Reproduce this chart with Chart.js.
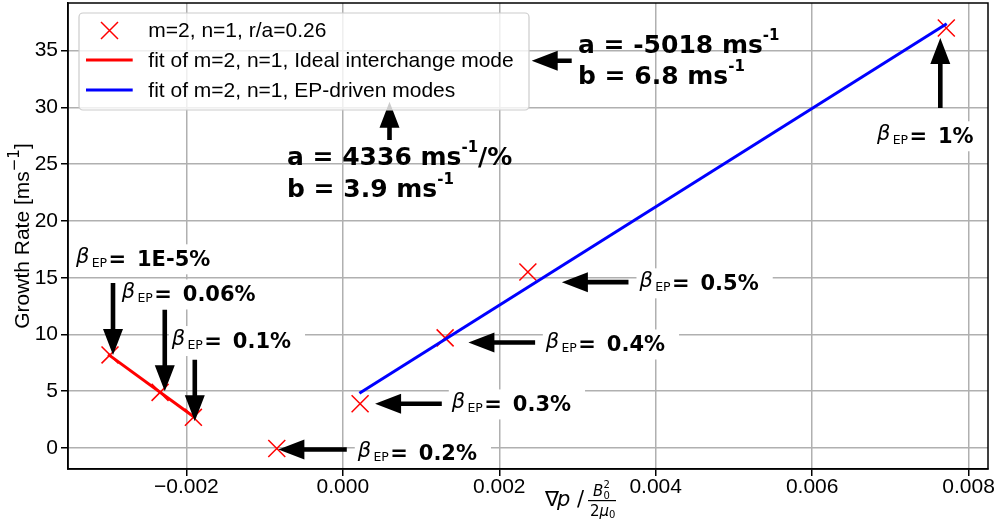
<!DOCTYPE html>
<html>
<head>
<meta charset="utf-8">
<script src="https://cdn.jsdelivr.net/npm/chart.js@4.4.1/dist/chart.umd.min.js"></script>
<style>
  html, body { margin: 0; padding: 0; background: #fff; }
  #wrap { width: 996px; height: 525px; }
</style>
</head>
<body>
<div id="wrap"><canvas id="growthChart" width="996" height="525"></canvas></div>
<script>
// pressure gradient (normalised) and growth rate of the m=2, n=1 mode at r/a=0.26
const gradP = [-0.002976, -0.002336, -0.00191, -0.000844, 0.000221, 0.001308, 0.002366, 0.007715];
const growthRate = [8.2, 4.9, 2.7, -0.05, 3.9, 9.7, 15.5, 37.0];
const betaEP = ['1E-5%', '0.06%', '0.1%', '0.2%', '0.3%', '0.4%', '0.5%', '1%'];

// fit lines (end points)
const idealFitX = [-0.00300, -0.00191];
const idealFitY = [8.25, 2.78];
const epFitX = [0.000212, 0.00772];
const epFitY = [4.82, 37.37];

const xTicks = [-0.002, 0, 0.002, 0.004, 0.006, 0.008];
const yTicks = [0, 5, 10, 15, 20, 25, 30, 35];

// annotation layout: offsets in px from each point (arrow tip, arrow tail, text start)
const betaNotes = [
  { tip: [3, 0], tail: [3, -72], text: [-34, -88.6] },
  { tip: [4.7, -1], tail: [4.7, -82.6], text: [-38.3, -90.9] },
  { tip: [1.4, 4], tail: [1.4, -57.6], text: [-21.6, -69.3] },
  { tip: [1.6, 1], tail: [70, 1], text: [81, 11] },
  { tip: [15, 0], tail: [81.7, 0], text: [91.7, 7.7] },
  { tip: [23.3, 4.6], tail: [90, 4.6], text: [100.7, 13.6] },
  { tip: [34, 10.1], tail: [100.6, 10.1], text: [111.6, 18.3] },
  { tip: [-6, 10], tail: [-6, 80], text: [-69.3, 115.3] }
];

const toXY = (xs, ys) => xs.map((x, i) => ({ x: x, y: ys[i] }));

const SANS = "'Liberation Sans', Arial, sans-serif";
const DJV = "'DejaVu Sans', sans-serif";

function drawArrow(ctx, x1, y1, x2, y2) {
  const dx = x2 - x1, dy = y2 - y1;
  const len = Math.hypot(dx, dy);
  const ux = dx / len, uy = dy / len;
  const px = -uy, py = ux;
  const headLen = 26, headW = 10, shaftW = 2.3;
  const bx = x2 - ux * headLen, by = y2 - uy * headLen;
  ctx.beginPath();
  ctx.moveTo(x1 + px * shaftW, y1 + py * shaftW);
  ctx.lineTo(bx + px * shaftW, by + py * shaftW);
  ctx.lineTo(bx + px * headW, by + py * headW);
  ctx.lineTo(x2, y2);
  ctx.lineTo(bx - px * headW, by - py * headW);
  ctx.lineTo(bx - px * shaftW, by - py * shaftW);
  ctx.lineTo(x1 - px * shaftW, y1 - py * shaftW);
  ctx.closePath();
  ctx.fill();
}

function drawBeta(ctx, x0, base, value) {
  ctx.font = "bold 21px " + DJV;
  const w = 61 + ctx.measureText(value).width;
  ctx.fillStyle = '#fff';
  ctx.fillRect(x0 - 3, base - 22, w + 17, 30);
  ctx.fillStyle = '#000';
  ctx.textAlign = 'left';
  ctx.textBaseline = 'alphabetic';
  ctx.font = "italic 21px " + DJV;
  ctx.fillText('\u03b2', x0, base - 3);
  ctx.font = "12.5px " + DJV;
  ctx.fillText('E', x0 + 15.8, base + 1);
  ctx.fillText('P', x0 + 23.5, base + 1);
  ctx.font = "bold 21px " + DJV;
  ctx.fillText('=', x0 + 32.5, base);
  ctx.fillText(value, x0 + 61, base);
}

// text with superscripts: parts = [[text, isSup], ...]
function drawRich(ctx, x, base, parts) {
  ctx.textAlign = 'left';
  ctx.textBaseline = 'alphabetic';
  ctx.fillStyle = '#000';
  parts.forEach(([t, sup]) => {
    ctx.font = (sup ? "bold 15px " : "bold 25px ") + DJV;
    ctx.fillText(t, x, sup ? base - 13 : base);
    x += ctx.measureText(t).width;
  });
}

const notesPlugin = {
  id: 'notes',
  afterDatasetsDraw(chart) {
    const ctx = chart.ctx;
    const xs = chart.scales.x, ys = chart.scales.y;
    const area = chart.chartArea;
    ctx.save();
    betaNotes.forEach((n, i) => {
      const px = xs.getPixelForValue(gradP[i]);
      const py = ys.getPixelForValue(growthRate[i]);
      drawBeta(ctx, px + n.text[0], py + n.text[1], betaEP[i]);
      ctx.fillStyle = '#000';
      drawArrow(ctx, px + n.tail[0], py + n.tail[1], px + n.tip[0], py + n.tip[1]);
    });

    // fit coefficients
    const L = area.left, T = area.top;
    drawRich(ctx, L + 219, T + 162, [['a = 4336 ms', false], ['-1', true], ['/%', false]]);
    drawRich(ctx, L + 219, T + 194, [['b = 3.9 ms', false], ['-1', true]]);
    drawArrow(ctx, L + 321.5, T + 137, L + 321.5, T + 98.7);

    drawRich(ctx, L + 510, T + 50, [['a = -5018 ms', false], ['-1', true]]);
    drawRich(ctx, L + 510, T + 80.5, [['b = 6.8 ms', false], ['-1', true]]);
    drawArrow(ctx, L + 503.7, T + 57.7, L + 463.7, T + 57.7);
    ctx.restore();
  },
  afterDraw(chart) {
    const ctx = chart.ctx;
    const area = chart.chartArea;
    ctx.save();
    // frame
    ctx.strokeStyle = '#000';
    ctx.lineWidth = 1.5;
    ctx.strokeRect(area.left, area.top, area.right - area.left, area.bottom - area.top);

    // legend
    const lx = area.left + 11, ly = area.top + 10, lw = 450, lh = 97;
    ctx.beginPath();
    ctx.roundRect(lx, ly, lw, lh, 4);
    ctx.fillStyle = 'rgba(255,255,255,0.8)';
    ctx.fill();
    ctx.strokeStyle = '#cccccc';
    ctx.lineWidth = 1.2;
    ctx.stroke();
    const ds = chart.data.datasets;
    const rows = [area.top + 27.5, area.top + 57, area.top + 87];
    ds.forEach((d, i) => {
      const ry = rows[i];
      ctx.strokeStyle = d.borderColor;
      if (i === 0) {
        ctx.lineWidth = 1.5;
        ctx.beginPath();
        ctx.moveTo(lx + 22, ry - 8.5); ctx.lineTo(lx + 39, ry + 8.5);
        ctx.moveTo(lx + 39, ry - 8.5); ctx.lineTo(lx + 22, ry + 8.5);
        ctx.stroke();
      } else {
        ctx.lineWidth = 3;
        ctx.beginPath();
        ctx.moveTo(lx + 7, ry); ctx.lineTo(lx + 53.7, ry);
        ctx.stroke();
      }
      ctx.fillStyle = '#000';
      ctx.font = "21px " + SANS;
      ctx.textAlign = 'left';
      ctx.textBaseline = 'middle';
      ctx.fillText(d.label, lx + 69.3, ry + 1);
    });

    // y axis title
    ctx.save();
    ctx.translate(29, (area.top + area.bottom) / 2);
    ctx.rotate(-Math.PI / 2);
    ctx.textBaseline = 'alphabetic';
    ctx.textAlign = 'left';
    ctx.font = "21px " + SANS;
    const t1 = 'Growth Rate [ms', t3 = ']';
    const w1 = ctx.measureText(t1).width, w3 = ctx.measureText(t3).width;
    ctx.font = "15px " + DJV;
    const w2 = ctx.measureText('\u22121').width;
    let x = -(w1 + w2 + w3) / 2;
    ctx.font = "21px " + SANS;
    ctx.fillText(t1, x, 0); x += w1;
    ctx.font = "15px " + DJV;
    ctx.fillText('\u22121', x, -10); x += w2;
    ctx.font = "21px " + SANS;
    ctx.fillText(t3, x, 0);
    ctx.restore();

    // x axis title: grad p / (B0^2 / 2 mu0)
    ctx.fillStyle = '#000';
    ctx.textAlign = 'left';
    ctx.textBaseline = 'alphabetic';
    const bx = area.left + 477, by = area.bottom + 36.5;
    ctx.font = "21px " + DJV;
    ctx.fillText('\u2207', bx, by);
    ctx.font = "italic 21px " + DJV;
    ctx.fillText('p', bx + 12, by);
    ctx.font = "21px " + DJV;
    ctx.fillText('/', bx + 32, by);
    ctx.font = "italic 15px " + DJV;
    ctx.fillText('B', bx + 48, by - 9.5);
    ctx.font = "10px " + DJV;
    ctx.fillText('2', bx + 58.5, by - 18);
    ctx.fillText('0', bx + 58.5, by - 6.5);
    ctx.fillRect(bx + 43, by - 5.5, 28, 1.2);
    ctx.font = "15px " + DJV;
    ctx.fillText('2', bx + 45, by + 10);
    ctx.font = "italic 15px " + DJV;
    ctx.fillText('\u03bc', bx + 54.5, by + 10);
    ctx.font = "10px " + DJV;
    ctx.fillText('0', bx + 64, by + 12);
    ctx.restore();
  }
};

const ctx = document.getElementById('growthChart').getContext('2d');
new Chart(ctx, {
  type: 'scatter',
  data: {
    datasets: [
      {
        label: 'm=2, n=1, r/a=0.26',
        data: toXY(gradP, growthRate),
        pointStyle: 'crossRot',
        pointRadius: 12,
        pointHoverRadius: 12,
        borderColor: '#ff0000',
        backgroundColor: '#ff0000',
        borderWidth: 1.5,
        order: 2
      },
      {
        label: 'fit of m=2, n=1, Ideal interchange mode',
        data: toXY(idealFitX, idealFitY),
        showLine: true,
        borderColor: '#ff0000',
        borderWidth: 3,
        pointRadius: 0,
        order: 1
      },
      {
        label: 'fit of m=2, n=1, EP-driven modes',
        data: toXY(epFitX, epFitY),
        showLine: true,
        borderColor: '#0000ff',
        borderWidth: 3,
        pointRadius: 0,
        order: 1
      }
    ]
  },
  options: {
    responsive: false,
    animation: false,
    devicePixelRatio: 1,
    layout: { autoPadding: false, padding: { top: 3, right: 8, left: 0, bottom: 0 } },
    plugins: {
      legend: { display: false },
      tooltip: { enabled: false }
    },
    scales: {
      x: {
        type: 'linear',
        min: -0.003513,
        max: 0.008248,
        afterBuildTicks: (s) => { s.ticks = xTicks.map((v) => ({ value: v })); },
        afterFit: (s) => { s.height = 56; s.paddingLeft = 0; s.paddingRight = 0; },
        grid: { color: '#b0b0b0', lineWidth: 1.5, tickColor: '#000', tickLength: 7, tickWidth: 1.5 },
        border: { display: true, color: '#000', width: 1.5 },
        ticks: {
          color: '#000',
          padding: -1,
          maxRotation: 0,
          autoSkip: false,
          font: { family: SANS, size: 21 },
          callback: (v) => (v < 0 ? '\u2212' : '') + Math.abs(v).toFixed(3)
        }
      },
      y: {
        type: 'linear',
        min: -1.85,
        max: 39.2,
        afterBuildTicks: (s) => { s.ticks = yTicks.map((v) => ({ value: v })); },
        afterFit: (s) => { s.width = 68; s.paddingTop = 0; s.paddingBottom = 0; },
        grid: { color: '#b0b0b0', lineWidth: 1.5, tickColor: '#000', tickLength: 7, tickWidth: 1.5 },
        border: { display: true, color: '#000', width: 1.5 },
        ticks: {
          color: '#000',
          padding: 3,
          font: { family: SANS, size: 21 },
          callback: (v) => String(v)
        }
      }
    }
  },
  plugins: [notesPlugin]
});
</script>
</body>
</html>
